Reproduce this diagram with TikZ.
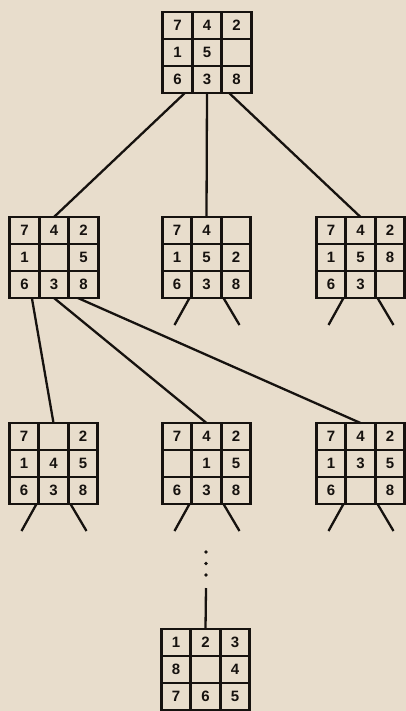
\documentclass[tikz,border=0pt]{standalone}
\usepackage{fontspec}
\setmainfont{Liberation Sans}
\usetikzlibrary{calc}
\definecolor{paper}{RGB}{232,221,204}
\definecolor{ink}{RGB}{22,18,15}
\tikzset{
  board/.style={draw=ink, line width=2.8pt, minimum width=88.5pt, minimum height=81pt, inner sep=0pt, outer sep=0pt, anchor=north},
  gridline/.style={draw=ink, line width=2.6pt},
  digit/.style={font=\fontsize{15}{15}\selectfont\bfseries, text=ink, inner sep=0pt},
  link/.style={draw=ink, line width=2.3pt},
}
\newcommand\puz[4]{%
  \node[board] (#1) at (#2,#3) {};
  \draw[gridline] (#2-14.75,#3) -- (#2-14.75,#3+81)
    (#2+14.75,#3) -- (#2+14.75,#3+81)
    (#2-44.25,#3+27) -- (#2+44.25,#3+27)
    (#2-44.25,#3+54) -- (#2+44.25,#3+54);
  \foreach \d [count=\k from 0] in {#4} {
    \pgfmathsetmacro\cc{#2+(mod(\k,3)-1)*29.5}
    \pgfmathsetmacro\rr{#3+13.5+div(\k,3)*27}
    \node[digit] (#1-\k) at (\cc,\rr) {\d};
  }
}
\begin{document}
\begin{tikzpicture}[x=1pt,y=-1pt]
\fill[paper] (0,0) rectangle (406,711);
\useasboundingbox (0,0) rectangle (406,711);

\puz{s0}{207}{12}{7,4,2,1,5,{},6,3,8}
\puz{s1}{54}{217}{7,4,2,1,{},5,6,3,8}
\puz{s2}{206.5}{217}{7,4,{},1,5,2,6,3,8}
\puz{s3}{360.5}{217}{7,4,2,1,5,8,6,3,{}}
\puz{s4}{53.5}{423}{7,{},2,1,4,5,6,3,8}
\puz{s5}{206.5}{423}{7,4,2,{},1,5,6,3,8}
\puz{s6}{360.5}{423}{7,4,2,1,3,5,6,{},8}
\puz{s7}{205.5}{629}{1,2,3,8,{},4,7,6,5}

% tree links
\draw[link] ($(s0.south west)!0.25!(s0.south east)$) -- (s1.north);
\draw[link] (s0.south) -- (s2.north);
\draw[link] ($(s0.south west)!0.75!(s0.south east)$) -- (s3.north);
\draw[link] ($(s1.south west)!0.25!(s1.south east)$) -- (s4.north);
\draw[link] (s1.south) -- (s5.north);
\draw[link] ($(s1.south west)!0.77!(s1.south east)$) -- (s6.north);

% stubs
\foreach \n in {s2,s3,s4,s5,s6} {
  \coordinate (\n-sl) at ($(\n.south)+(-32,27)$);
  \coordinate (\n-sr) at ($(\n.south)+(33,27)$);
  \draw[link] ($(\n.south)+(-17,0)$) -- (\n-sl);
  \draw[link] ($(\n.south)+(17,0)$) -- (\n-sr);
}

% ellipsis to goal
\fill[ink] (206,552) circle (1.8pt);
\fill[ink] (206,563.5) circle (1.8pt);
\fill[ink] (206,575) circle (1.8pt);
\coordinate (dl) at (206,588);
\draw[link] (dl) -- (s7.north);
\end{tikzpicture}
\end{document}
